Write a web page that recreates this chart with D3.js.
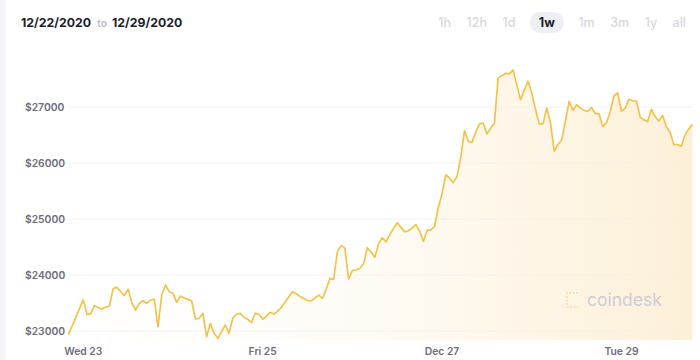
<!DOCTYPE html>
<html>
<head>
<meta charset="utf-8">
<script src="https://cdn.jsdelivr.net/npm/d3@7"></script>
<style>
  html, body { margin: 0; padding: 0; background: #ffffff; }
  svg { display: block; font-family: Inter, "Noto Sans", sans-serif; }
</style>
</head>
<body>
<svg id="chart" width="700" height="360"></svg>
<script>
// ---- data ----
const startTime = "2020-12-22T20:00:00";   // first hourly sample
const prices = [
  22930, 23085, 23240, 23400, 23554, 23298, 23310, 23452, 23420, 23393,
  23429, 23446, 23756, 23780, 23705, 23631, 23745, 23506, 23375, 23494,
  23541, 23494, 23554, 23566, 23077, 23643, 23821, 23702, 23673, 23512,
  23625, 23589, 23565, 23536, 23214, 23226, 23315, 22899, 23137, 22958,
  22869, 22988, 23107, 22958, 23226, 23304, 23315, 23245, 23209, 23148,
  23316, 23298, 23214, 23260, 23334, 23304, 23350, 23420, 23515, 23610,
  23700, 23665, 23615, 23580, 23545, 23536, 23590, 23640, 23585, 23744,
  23940, 23923, 24420, 24524, 24480, 23929, 24080, 24089, 24120, 24200,
  24488, 24405, 24316, 24550, 24666, 24590, 24720, 24830, 24934, 24850,
  24770, 24790, 24840, 24900, 24780, 24600, 24800, 24805, 24870, 25210,
  25450, 25790, 25730, 25650, 25760, 26100, 26580, 26390, 26365, 26550,
  26700, 26715, 26520, 26620, 26708, 27520, 27560, 27600, 27590, 27660,
  27390, 27130, 27300, 27460, 27250, 26960, 26700, 26700, 26980, 26720,
  26210, 26330, 26410, 26750, 27100, 26940, 27040, 26980, 26940, 26920,
  26990, 26880, 26880, 26650, 26720, 26920, 27200, 27250, 26920, 26980,
  27140, 27110, 27107, 26820, 26770, 26740, 26960, 26830, 26750, 26850,
  26650, 26550, 26330, 26330, 26300, 26500, 26610, 26690
];
const yTicks = [23000, 24000, 25000, 26000, 27000];
const xTickDates = ["2020-12-23T00:00:00", "2020-12-25T00:00:00", "2020-12-27T00:00:00", "2020-12-29T00:00:00"];
const xTickLabels = ["Wed 23", "Fri 25", "Dec 27", "Tue 29"];
const rangeStart = "12/22/2020";
const rangeEnd = "12/29/2020";
const periods = ["1h", "12h", "1d", "1w", "1m", "3m", "1y", "all"];
const selectedPeriod = "1w";

(function () {
  const t0 = new Date(startTime);
  const data = prices.map((p, i) => ({ t: new Date(t0.getTime() + i * 3600000), p }));

  const svg = d3.select("#chart");
  const pLeft = 68.3, pRight = 692.5, pTop = 107, pBottom = 331, fillBottom = 340;

  const x = d3.scaleTime()
    .domain([data[0].t, data[data.length - 1].t])
    .range([pLeft, pRight]);
  const y = d3.scaleLinear()
    .domain([23000, 27000])
    .range([pBottom, pTop]);

  // light page edge on the left
  svg.append("rect").attr("x", 0).attr("y", 0).attr("width", 6).attr("height", 360).attr("fill", "#f6f6fa");

  // header
  const hdr = svg.append("text").attr("x", 21).attr("y", 27)
    .attr("font-size", 12.3).attr("font-weight", 700).attr("fill", "#1d1d2b");
  hdr.append("tspan").text(rangeStart);
  hdr.append("tspan").attr("dx", 6).attr("font-size", 10.5).attr("font-weight", 500).attr("fill", "#b4b4c0").text("to");
  hdr.append("tspan").attr("dx", 5).text(rangeEnd);

  // period buttons, laid out right-to-left by measured width
  const btnG = svg.append("g");
  const btnTexts = btnG.selectAll("text").data(periods).join("text")
    .attr("y", 27).attr("font-size", 12.5)
    .attr("font-weight", d => d === selectedPeriod ? 700 : 500)
    .attr("fill", d => d === selectedPeriod ? "#1d1d2b" : "#d6d6e0")
    .text(d => d);
  const widths = btnTexts.nodes().map(n => n.getComputedTextLength());
  let cursor = 686;
  const xs = new Array(periods.length);
  for (let i = periods.length - 1; i >= 0; i--) {
    const pad = periods[i] === selectedPeriod ? 8 : 0;
    cursor -= pad;
    xs[i] = cursor - widths[i];
    cursor = xs[i] - pad - 15.5;
  }
  btnTexts.attr("x", (d, i) => xs[i]);
  const si = periods.indexOf(selectedPeriod);
  btnG.insert("rect", "text")
    .attr("x", xs[si] - 9).attr("y", 12).attr("width", widths[si] + 18).attr("height", 21)
    .attr("rx", 10.5).attr("fill", "#eeeef5");

  // gradient for area
  const defs = svg.append("defs");
  const grad = defs.append("linearGradient").attr("id", "areaGrad")
    .attr("gradientUnits", "userSpaceOnUse")
    .attr("x1", pLeft).attr("x2", pRight).attr("y1", 0).attr("y2", 0);
  grad.append("stop").attr("offset", "0%").attr("stop-color", "#fdf0d8").attr("stop-opacity", 0);
  grad.append("stop").attr("offset", "45%").attr("stop-color", "#fdf0d8").attr("stop-opacity", 0.22);
  grad.append("stop").attr("offset", "100%").attr("stop-color", "#fcefd6").attr("stop-opacity", 0.95);

  // grid lines
  svg.append("g").selectAll("line").data(yTicks).join("line")
    .attr("x1", pLeft).attr("x2", pRight)
    .attr("y1", d => y(d)).attr("y2", d => y(d))
    .attr("stroke", "#f1f1f5").attr("stroke-width", 1);

  // y labels
  svg.append("g").selectAll("text").data(yTicks).join("text")
    .attr("x", 25).attr("y", d => y(d) + 4)
    .attr("font-size", 10.3).attr("font-weight", 600).attr("fill", "#6c6c7a")
    .text(d => "$" + d);

  // area
  const area = d3.area().x(d => x(d.t)).y0(fillBottom).y1(d => y(d.p));
  svg.append("path").datum(data).attr("d", area).attr("fill", "url(#areaGrad)");

  // x labels
  const xTicks = xTickDates.map(d => new Date(d));
  svg.append("g").selectAll("text").data(xTicks).join("text")
    .attr("x", d => x(d)).attr("y", 355)
    .attr("text-anchor", "middle")
    .attr("font-size", 10.3).attr("font-weight", 600).attr("fill", "#6c6c7a")
    .text((d, i) => xTickLabels[i]);

  // watermark
  const wm = svg.append("g");
  wm.append("path")
    .attr("d", "M578,293 L567,293 L567,307 L578,307")
    .attr("fill", "none").attr("stroke", "#f6e3b6").attr("stroke-width", 2.2)
    .attr("stroke-dasharray", "2,1.5");
  wm.append("text").attr("x", 587).attr("y", 306)
    .attr("font-size", 17.5).attr("font-weight", 400).attr("fill", "#cdcdd6")
    .text("coindesk");

  // line
  const line = d3.line().x(d => x(d.t)).y(d => y(d.p));
  svg.append("path").datum(data).attr("d", line)
    .attr("fill", "none").attr("stroke", "#f2c34a").attr("stroke-width", 1.7)
    .attr("stroke-linejoin", "round");
})();
</script>
</body>
</html>
